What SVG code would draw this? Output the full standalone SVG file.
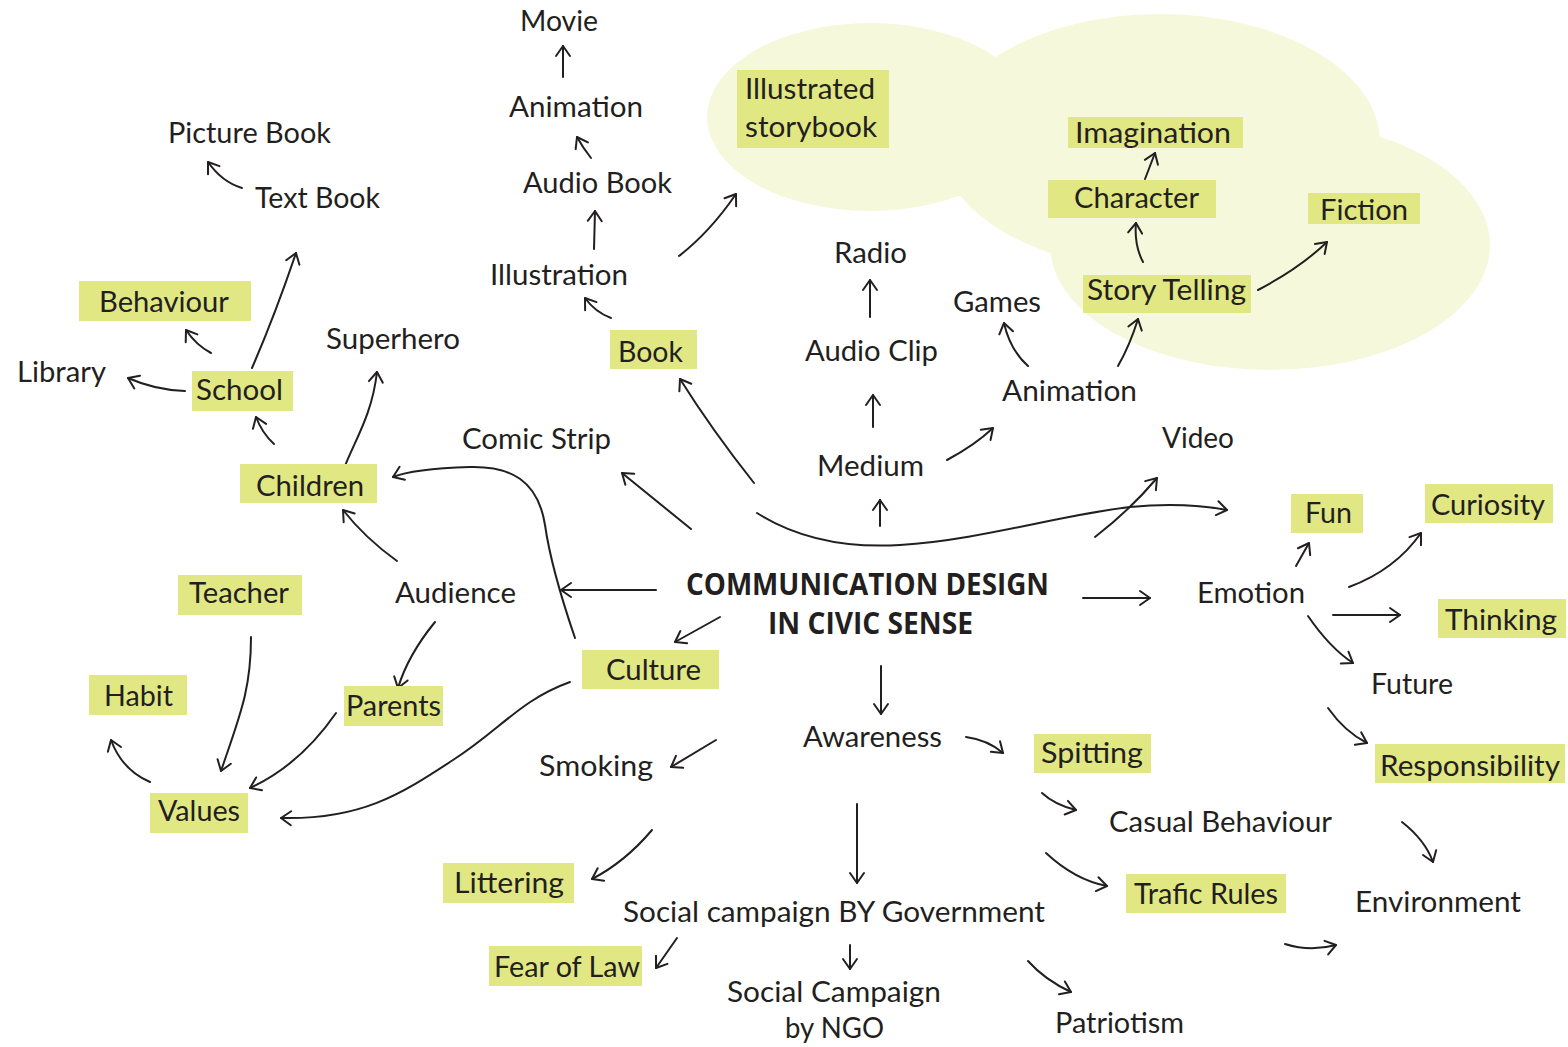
<svg xmlns="http://www.w3.org/2000/svg" width="1568" height="1047" viewBox="0 0 1568 1047">
<style>
text{font-family:Lato,"Open Sans","Liberation Sans",sans-serif;font-size:29px;fill:#231f20}
.t{font-family:"Open Sans","Liberation Sans",sans-serif;font-weight:bold;font-size:30px}
.hl{fill:#e1e783}
.cloud{fill:#f6f8dc}
.c path{fill:none;stroke:#231f20;stroke-width:2;stroke-linecap:round;marker-end:url(#ah)}
</style>
<defs>
<marker id="ah" markerUnits="userSpaceOnUse" markerWidth="24" markerHeight="24" viewBox="-12 -12 24 24" refX="0" refY="0" orient="auto">
<path d="M-10,-7 L0,0 L-10,7" fill="none" stroke="#231f20" stroke-width="2" stroke-linecap="round" stroke-linejoin="round"/>
</marker>
</defs>
<g id="cloud">
<ellipse class="cloud" cx="870" cy="117" rx="163" ry="94"/>
<ellipse class="cloud" cx="1160" cy="142" rx="220" ry="128"/>
<ellipse class="cloud" cx="1270" cy="245" rx="220" ry="125"/>
</g>
<g id="connectors" class="c">
<path d="M563,77 L563,46"/>
<path d="M591,158 Q583,148 577,137"/>
<path d="M594,249 L595,211"/>
<path d="M611,318 Q595,312 585,298"/>
<path d="M679,256 Q710,232 736,194"/>
<path d="M754,483 Q712,430 680,379"/>
<path d="M691,529 L622,473"/>
<path d="M757,513 C800,540 850,548 900,545 C980,540 1060,515 1130,507 C1170,503 1200,505 1227,510"/>
<path d="M880,526 L880,500"/>
<path d="M873,427 L873,395"/>
<path d="M870,317 L870,280"/>
<path d="M947,460 Q975,445 993,428"/>
<path d="M1095,537 Q1130,510 1157,478"/>
<path d="M1028,366 Q1010,350 1004,323"/>
<path d="M1118,366 Q1130,345 1138,319"/>
<path d="M1143,262 Q1134,245 1136,223"/>
<path d="M1145,179 L1155,153"/>
<path d="M1258,290 Q1300,268 1327,242"/>
<path d="M252,368 Q275,315 296,253"/>
<path d="M242,188 Q222,182 208,162"/>
<path d="M211,353 Q196,345 186,330"/>
<path d="M185,391 Q155,390 128,378"/>
<path d="M274,444 Q262,433 256,417"/>
<path d="M345,466 C355,440 372,415 377,372"/>
<path d="M397,561 Q365,538 343,510"/>
<path d="M575,638 C562,600 550,560 545,525 C538,480 510,466 470,467 C440,468 410,470 393,477"/>
<path d="M656,590 L561,590"/>
<path d="M720,617 L675,642"/>
<path d="M716,740 L671,767"/>
<path d="M251,637 C251,690 240,715 221,771"/>
<path d="M435,622 Q408,655 398,688"/>
<path d="M336,713 Q300,765 250,788"/>
<path d="M570,682 C520,700 500,730 453,760 C400,795 360,820 281,818"/>
<path d="M150,782 Q122,770 111,740"/>
<path d="M1083,598 L1150,598"/>
<path d="M1296,566 L1309,543"/>
<path d="M1349,587 Q1395,570 1421,533"/>
<path d="M1333,615 L1400,615"/>
<path d="M1308,616 Q1330,648 1353,663"/>
<path d="M1328,708 Q1345,732 1367,743"/>
<path d="M881,666 L881,714"/>
<path d="M966,737 Q988,740 1003,753"/>
<path d="M1042,793 Q1055,805 1076,810"/>
<path d="M1046,853 Q1075,880 1107,886"/>
<path d="M1402,822 Q1425,840 1433,862"/>
<path d="M1285,944 Q1310,952 1336,945"/>
<path d="M1028,961 Q1045,980 1071,992"/>
<path d="M652,830 Q625,862 592,879"/>
<path d="M857,804 L857,883"/>
<path d="M677,938 L656,968"/>
<path d="M850,945 L850,969"/>
</g>
<g id="n-title"><text class="t" x="686" y="595" textLength="363" lengthAdjust="spacingAndGlyphs">COMMUNICATION DESIGN</text><text class="t" x="768" y="634" textLength="205" lengthAdjust="spacingAndGlyphs">IN CIVIC SENSE</text></g>
<g id="n-movie"><text x="520" y="31" textLength="78" lengthAdjust="spacingAndGlyphs">Movie</text></g>
<g id="n-animation1"><text x="509" y="117" textLength="134" lengthAdjust="spacingAndGlyphs">Animation</text></g>
<g id="n-audiobook"><text x="523" y="193" textLength="149" lengthAdjust="spacingAndGlyphs">Audio Book</text></g>
<g id="n-illustration"><text x="490" y="285" textLength="138" lengthAdjust="spacingAndGlyphs">Illustration</text></g>
<g id="n-book"><rect class="hl" x="610" y="330" width="87" height="39"/><text x="618" y="362" textLength="65" lengthAdjust="spacingAndGlyphs">Book</text></g>
<g id="n-picturebook"><text x="168" y="143" textLength="163" lengthAdjust="spacingAndGlyphs">Picture Book</text></g>
<g id="n-textbook"><text x="255" y="208" textLength="125" lengthAdjust="spacingAndGlyphs">Text Book</text></g>
<g id="n-behaviour"><rect class="hl" x="79" y="281" width="172" height="40"/><text x="99" y="312" textLength="130" lengthAdjust="spacingAndGlyphs">Behaviour</text></g>
<g id="n-library"><text x="17" y="382" textLength="89" lengthAdjust="spacingAndGlyphs">Library</text></g>
<g id="n-school"><rect class="hl" x="192" y="371" width="101" height="40"/><text x="196" y="400" textLength="87" lengthAdjust="spacingAndGlyphs">School</text></g>
<g id="n-superhero"><text x="326" y="349" textLength="134" lengthAdjust="spacingAndGlyphs">Superhero</text></g>
<g id="n-children"><rect class="hl" x="240" y="464" width="137" height="39"/><text x="256" y="496" textLength="108" lengthAdjust="spacingAndGlyphs">Children</text></g>
<g id="n-comicstrip"><text x="462" y="449" textLength="149" lengthAdjust="spacingAndGlyphs">Comic Strip</text></g>
<g id="n-audience"><text x="395" y="603" textLength="121" lengthAdjust="spacingAndGlyphs">Audience</text></g>
<g id="n-teacher"><rect class="hl" x="178" y="575" width="124" height="40"/><text x="189" y="603" textLength="100" lengthAdjust="spacingAndGlyphs">Teacher</text></g>
<g id="n-habit"><rect class="hl" x="89" y="675" width="98" height="40"/><text x="104" y="706" textLength="69" lengthAdjust="spacingAndGlyphs">Habit</text></g>
<g id="n-parents"><rect class="hl" x="344" y="686" width="99" height="40"/><text x="346" y="716" textLength="95" lengthAdjust="spacingAndGlyphs">Parents</text></g>
<g id="n-culture"><rect class="hl" x="582" y="650" width="137" height="39"/><text x="606" y="680" textLength="95" lengthAdjust="spacingAndGlyphs">Culture</text></g>
<g id="n-smoking"><text x="539" y="776" textLength="114" lengthAdjust="spacingAndGlyphs">Smoking</text></g>
<g id="n-values"><rect class="hl" x="150" y="793" width="98" height="40"/><text x="158" y="821" textLength="82" lengthAdjust="spacingAndGlyphs">Values</text></g>
<g id="n-storybook"><rect class="hl" x="737" y="70" width="152" height="78"/><text x="745" y="99" textLength="130" lengthAdjust="spacingAndGlyphs">Illustrated</text><text x="745" y="137" textLength="132" lengthAdjust="spacingAndGlyphs">storybook</text></g>
<g id="n-imagination"><rect class="hl" x="1068" y="117" width="175" height="31"/><text x="1075" y="143" textLength="156" lengthAdjust="spacingAndGlyphs">Imagination</text></g>
<g id="n-character"><rect class="hl" x="1048" y="180" width="168" height="38"/><text x="1074" y="208" textLength="125" lengthAdjust="spacingAndGlyphs">Character</text></g>
<g id="n-fiction"><rect class="hl" x="1308" y="193" width="112" height="31"/><text x="1320" y="220" textLength="88" lengthAdjust="spacingAndGlyphs">Fiction</text></g>
<g id="n-storytelling"><rect class="hl" x="1083" y="275" width="168" height="38"/><text x="1087" y="300" textLength="159" lengthAdjust="spacingAndGlyphs">Story Telling</text></g>
<g id="n-radio"><text x="834" y="263" textLength="73" lengthAdjust="spacingAndGlyphs">Radio</text></g>
<g id="n-games"><text x="953" y="312" textLength="88" lengthAdjust="spacingAndGlyphs">Games</text></g>
<g id="n-audioclip"><text x="805" y="361" textLength="133" lengthAdjust="spacingAndGlyphs">Audio Clip</text></g>
<g id="n-animation2"><text x="1002" y="401" textLength="135" lengthAdjust="spacingAndGlyphs">Animation</text></g>
<g id="n-medium"><text x="817" y="476" textLength="107" lengthAdjust="spacingAndGlyphs">Medium</text></g>
<g id="n-video"><text x="1162" y="448" textLength="72" lengthAdjust="spacingAndGlyphs">Video</text></g>
<g id="n-fun"><rect class="hl" x="1291" y="494" width="72" height="39"/><text x="1305" y="523" textLength="47" lengthAdjust="spacingAndGlyphs">Fun</text></g>
<g id="n-curiosity"><rect class="hl" x="1425" y="484" width="128" height="39"/><text x="1431" y="515" textLength="114" lengthAdjust="spacingAndGlyphs">Curiosity</text></g>
<g id="n-emotion"><text x="1197" y="603" textLength="108" lengthAdjust="spacingAndGlyphs">Emotion</text></g>
<g id="n-thinking"><rect class="hl" x="1438" y="599" width="128" height="39"/><text x="1445" y="630" textLength="112" lengthAdjust="spacingAndGlyphs">Thinking</text></g>
<g id="n-future"><text x="1371" y="694" textLength="82" lengthAdjust="spacingAndGlyphs">Future</text></g>
<g id="n-responsibility"><rect class="hl" x="1375" y="744" width="190" height="39"/><text x="1380" y="776" textLength="180" lengthAdjust="spacingAndGlyphs">Responsibility</text></g>
<g id="n-awareness"><text x="803" y="747" textLength="139" lengthAdjust="spacingAndGlyphs">Awareness</text></g>
<g id="n-spitting"><rect class="hl" x="1034" y="734" width="117" height="39"/><text x="1041" y="763" textLength="102" lengthAdjust="spacingAndGlyphs">Spitting</text></g>
<g id="n-casual"><text x="1109" y="832" textLength="223" lengthAdjust="spacingAndGlyphs">Casual Behaviour</text></g>
<g id="n-trafic"><rect class="hl" x="1126" y="874" width="160" height="39"/><text x="1134" y="904" textLength="144" lengthAdjust="spacingAndGlyphs">Trafic Rules</text></g>
<g id="n-environment"><text x="1355" y="912" textLength="166" lengthAdjust="spacingAndGlyphs">Environment</text></g>
<g id="n-patriotism"><text x="1055" y="1033" textLength="129" lengthAdjust="spacingAndGlyphs">Patriotism</text></g>
<g id="n-littering"><rect class="hl" x="443" y="863" width="131" height="40"/><text x="454" y="893" textLength="110" lengthAdjust="spacingAndGlyphs">Littering</text></g>
<g id="n-government"><text x="623" y="922" textLength="422" lengthAdjust="spacingAndGlyphs">Social campaign BY Government</text></g>
<g id="n-fearoflaw"><rect class="hl" x="489" y="946" width="153" height="40"/><text x="494" y="977" textLength="146" lengthAdjust="spacingAndGlyphs">Fear of Law</text></g>
<g id="n-ngo"><text x="727" y="1002" textLength="214" lengthAdjust="spacingAndGlyphs">Social Campaign</text><text x="785" y="1038" textLength="99" lengthAdjust="spacingAndGlyphs">by NGO</text></g>
</svg>
